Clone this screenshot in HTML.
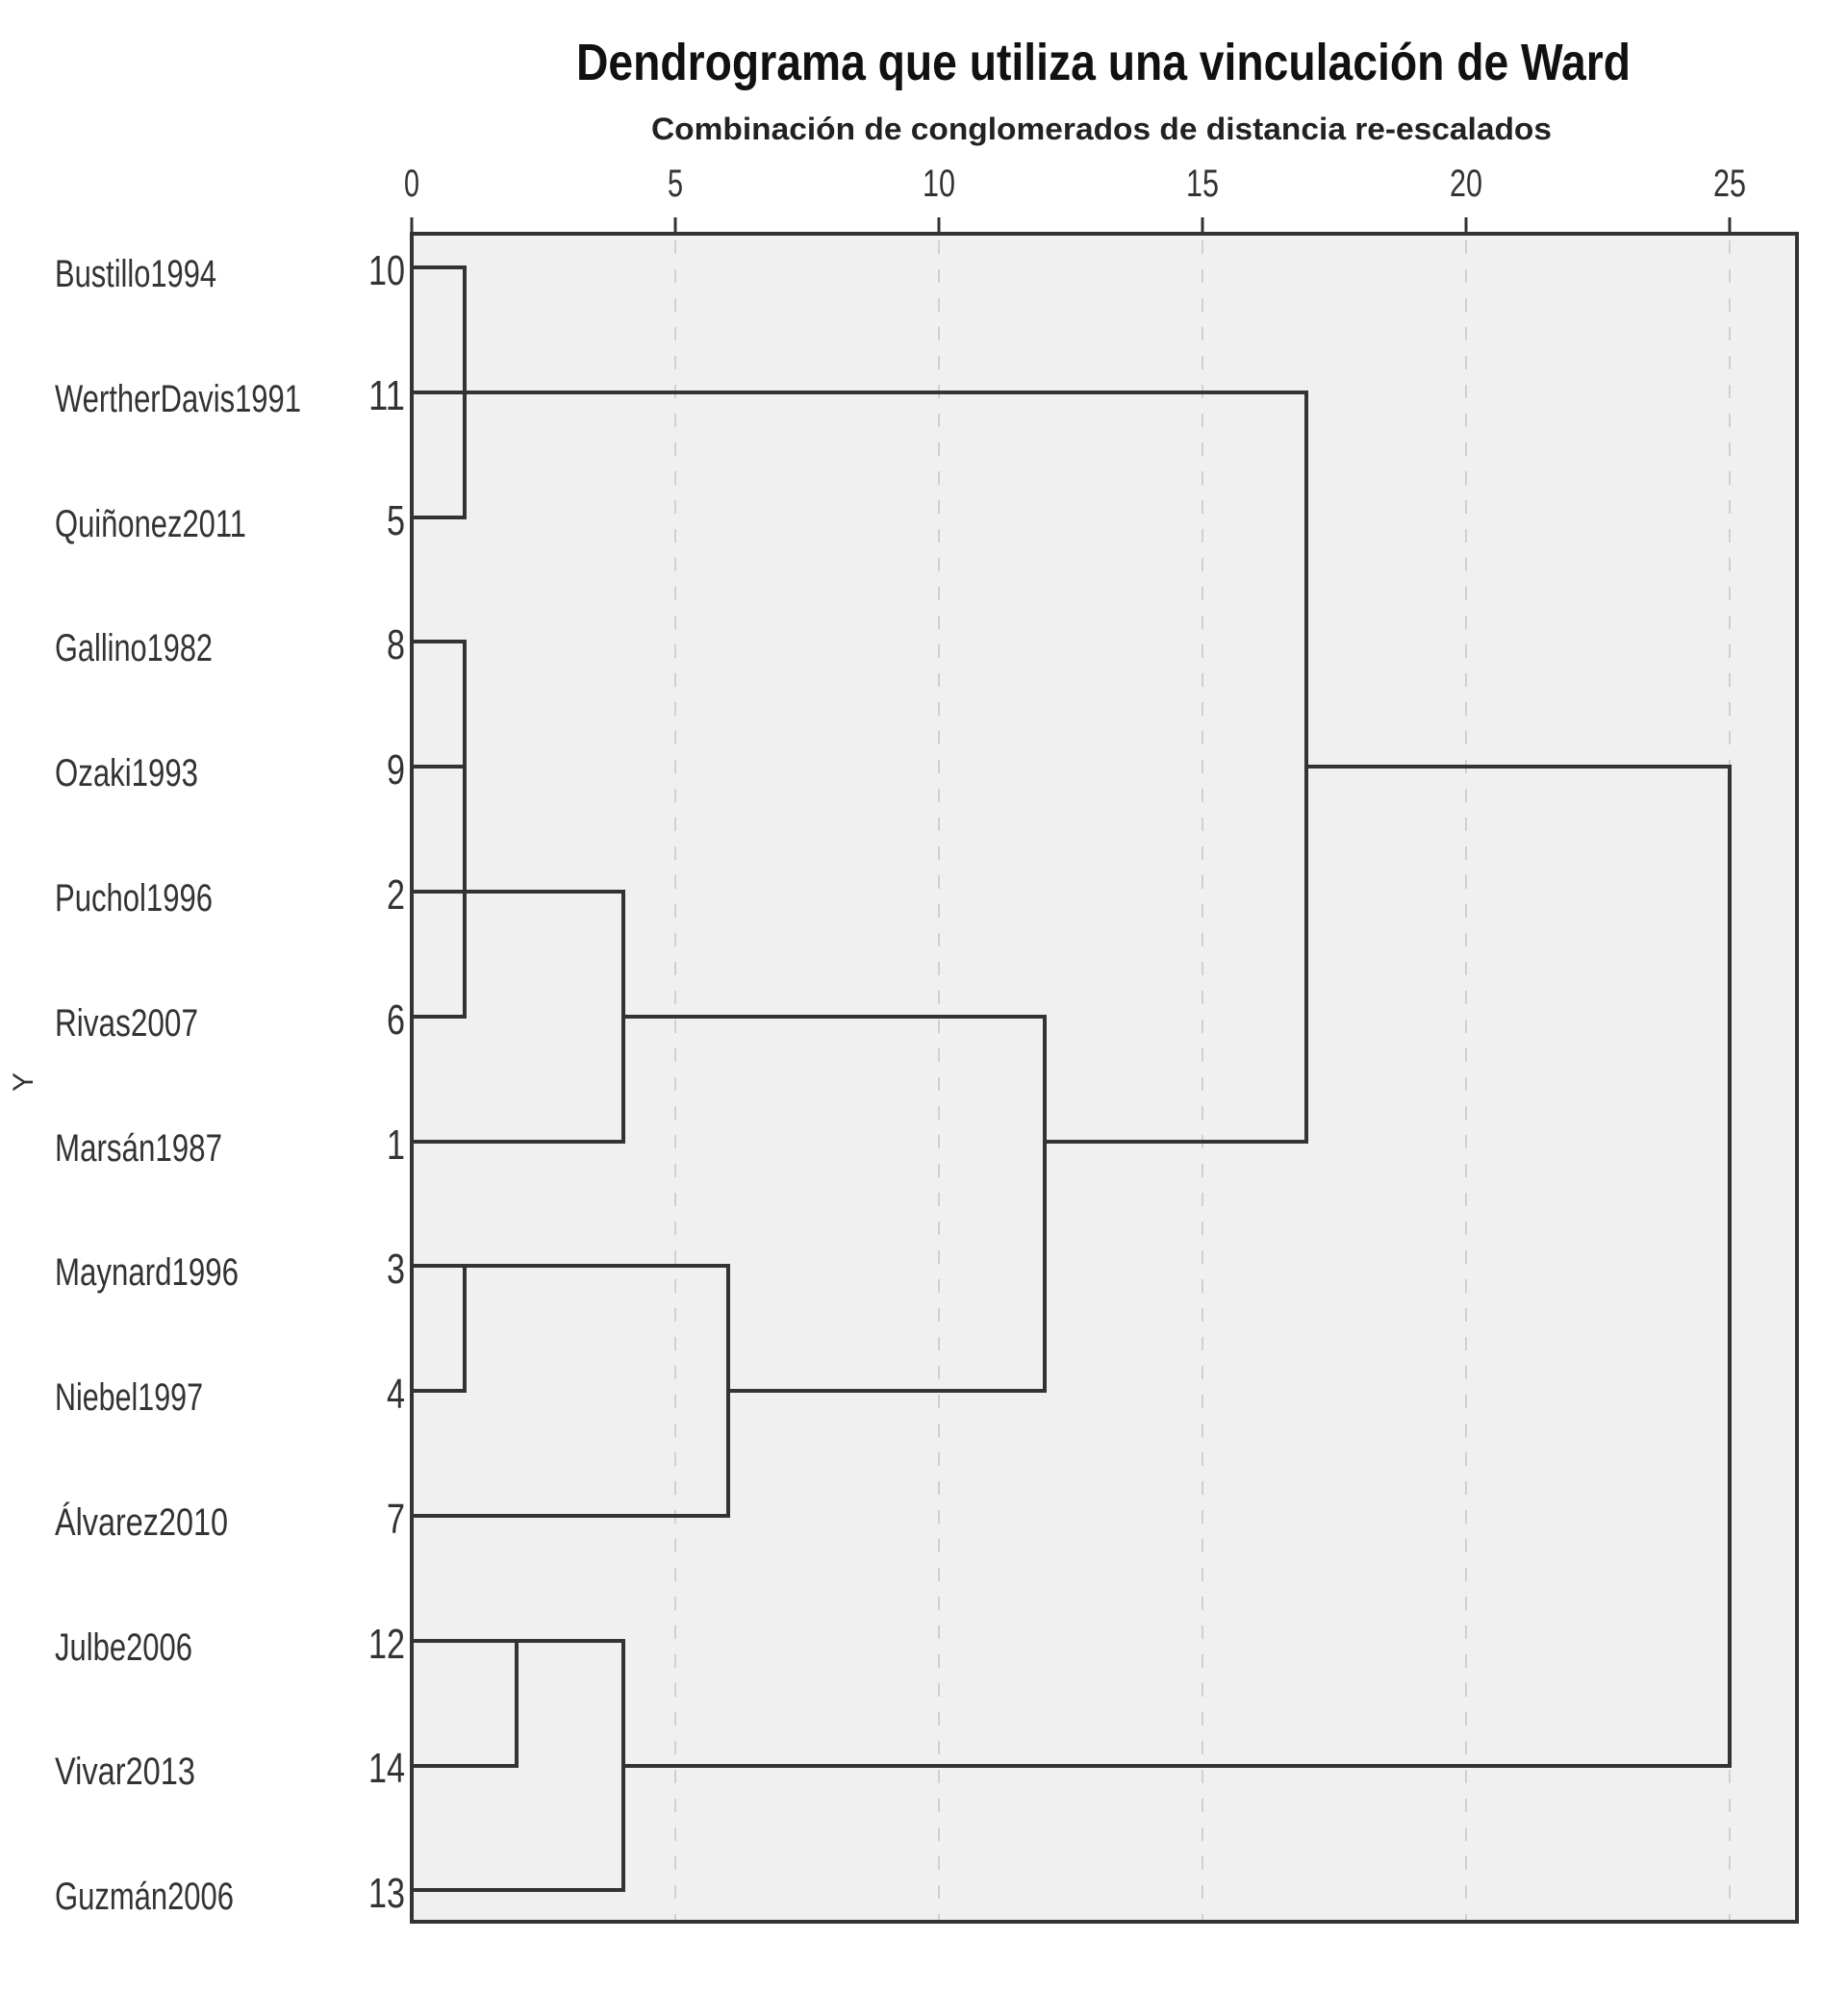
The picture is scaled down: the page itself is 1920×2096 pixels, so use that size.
<!DOCTYPE html>
<html><head><meta charset="utf-8"><style>html,body{margin:0;padding:0;background:#fff}svg{display:block}</style></head>
<body>
<svg width="1920" height="2096" viewBox="0 0 1920 2096" xmlns="http://www.w3.org/2000/svg" font-family="Liberation Sans, Arial, sans-serif">
<rect width="1920" height="2096" fill="#fff"/>
<text x="1147" y="83" font-size="54" font-weight="bold" text-anchor="middle" textLength="1096" lengthAdjust="spacingAndGlyphs" fill="#111">Dendrograma que utiliza una vinculación de Ward</text>
<text x="1145" y="145" font-size="32" font-weight="bold" text-anchor="middle" textLength="936" lengthAdjust="spacingAndGlyphs" fill="#222">Combinación de conglomerados de distancia re-escalados</text>
<g font-size="40" fill="#333" text-anchor="middle">
<text x="428" y="204" textLength="16" lengthAdjust="spacingAndGlyphs">0</text>
<text x="702" y="204" textLength="16" lengthAdjust="spacingAndGlyphs">5</text>
<text x="976" y="204" textLength="34" lengthAdjust="spacingAndGlyphs">10</text>
<text x="1250" y="204" textLength="34" lengthAdjust="spacingAndGlyphs">15</text>
<text x="1524" y="204" textLength="34" lengthAdjust="spacingAndGlyphs">20</text>
<text x="1798" y="204" textLength="34" lengthAdjust="spacingAndGlyphs">25</text>
</g>
<g stroke="#333" stroke-width="3">
<line x1="428" y1="226" x2="428" y2="243"/><line x1="702" y1="226" x2="702" y2="243"/><line x1="976" y1="226" x2="976" y2="243"/><line x1="1250" y1="226" x2="1250" y2="243"/><line x1="1524" y1="226" x2="1524" y2="243"/><line x1="1798" y1="226" x2="1798" y2="243"/>
</g>
<rect x="428" y="243" width="1440" height="1755" fill="#f0f0f0" stroke="#333" stroke-width="4"/>
<g stroke="#d0d0d0" stroke-width="2" stroke-dasharray="14,16">
<line x1="702" y1="250" x2="702" y2="1996"/><line x1="976" y1="250" x2="976" y2="1996"/><line x1="1250" y1="250" x2="1250" y2="1996"/><line x1="1524" y1="250" x2="1524" y2="1996"/><line x1="1798" y1="250" x2="1798" y2="1996"/>
</g>
<g font-size="40" fill="#333">
<text x="57" y="298" textLength="168" lengthAdjust="spacingAndGlyphs">Bustillo1994</text>
<text x="57" y="428" textLength="256" lengthAdjust="spacingAndGlyphs">WertherDavis1991</text>
<text x="57" y="558" textLength="199" lengthAdjust="spacingAndGlyphs">Quiñonez2011</text>
<text x="57" y="687" textLength="164" lengthAdjust="spacingAndGlyphs">Gallino1982</text>
<text x="57" y="817" textLength="149" lengthAdjust="spacingAndGlyphs">Ozaki1993</text>
<text x="57" y="947" textLength="164" lengthAdjust="spacingAndGlyphs">Puchol1996</text>
<text x="57" y="1077" textLength="149" lengthAdjust="spacingAndGlyphs">Rivas2007</text>
<text x="57" y="1207" textLength="174" lengthAdjust="spacingAndGlyphs">Marsán1987</text>
<text x="57" y="1336" textLength="191" lengthAdjust="spacingAndGlyphs">Maynard1996</text>
<text x="57" y="1466" textLength="154" lengthAdjust="spacingAndGlyphs">Niebel1997</text>
<text x="57" y="1596" textLength="180" lengthAdjust="spacingAndGlyphs">Álvarez2010</text>
<text x="57" y="1726" textLength="143" lengthAdjust="spacingAndGlyphs">Julbe2006</text>
<text x="57" y="1855" textLength="146" lengthAdjust="spacingAndGlyphs">Vivar2013</text>
<text x="57" y="1985" textLength="186" lengthAdjust="spacingAndGlyphs">Guzmán2006</text>
</g>
<g font-size="44" fill="#333" text-anchor="end">
<text x="421" y="296" textLength="38" lengthAdjust="spacingAndGlyphs">10</text>
<text x="421" y="426" textLength="38" lengthAdjust="spacingAndGlyphs">11</text>
<text x="421" y="556" textLength="19" lengthAdjust="spacingAndGlyphs">5</text>
<text x="421" y="685" textLength="19" lengthAdjust="spacingAndGlyphs">8</text>
<text x="421" y="815" textLength="19" lengthAdjust="spacingAndGlyphs">9</text>
<text x="421" y="945" textLength="19" lengthAdjust="spacingAndGlyphs">2</text>
<text x="421" y="1075" textLength="19" lengthAdjust="spacingAndGlyphs">6</text>
<text x="421" y="1205" textLength="19" lengthAdjust="spacingAndGlyphs">1</text>
<text x="421" y="1334" textLength="19" lengthAdjust="spacingAndGlyphs">3</text>
<text x="421" y="1464" textLength="19" lengthAdjust="spacingAndGlyphs">4</text>
<text x="421" y="1594" textLength="19" lengthAdjust="spacingAndGlyphs">7</text>
<text x="421" y="1724" textLength="38" lengthAdjust="spacingAndGlyphs">12</text>
<text x="421" y="1853" textLength="38" lengthAdjust="spacingAndGlyphs">14</text>
<text x="421" y="1983" textLength="38" lengthAdjust="spacingAndGlyphs">13</text>
</g>
<text transform="translate(34,1125) rotate(-90)" font-size="30" fill="#333" text-anchor="middle">Y</text>
<g stroke="#333" stroke-width="4" fill="none" stroke-linecap="square">
<polyline points="428,278 483,278 483,538 428,538"/>
<line x1="428" y1="408" x2="1358" y2="408"/>
<polyline points="428,667 483,667 483,1057 428,1057"/>
<line x1="428" y1="797" x2="483" y2="797"/>
<line x1="428" y1="927" x2="648" y2="927"/>
<polyline points="648,927 648,1187 428,1187"/>
<line x1="648" y1="1057" x2="1086" y2="1057"/>
<polyline points="428,1316 483,1316 483,1446 428,1446"/>
<line x1="483" y1="1316" x2="757" y2="1316"/>
<polyline points="757,1316 757,1576 428,1576"/>
<line x1="757" y1="1446" x2="1086" y2="1446"/>
<line x1="1086" y1="1057" x2="1086" y2="1446"/>
<line x1="1086" y1="1187" x2="1358" y2="1187"/>
<line x1="1358" y1="408" x2="1358" y2="1187"/>
<line x1="1358" y1="797" x2="1798" y2="797"/>
<polyline points="428,1706 648,1706 648,1965 428,1965"/>
<polyline points="537,1706 537,1836 428,1836"/>
<line x1="648" y1="1836" x2="1798" y2="1836"/>
<line x1="1798" y1="797" x2="1798" y2="1836"/>
</g>
</svg>
</body></html>
